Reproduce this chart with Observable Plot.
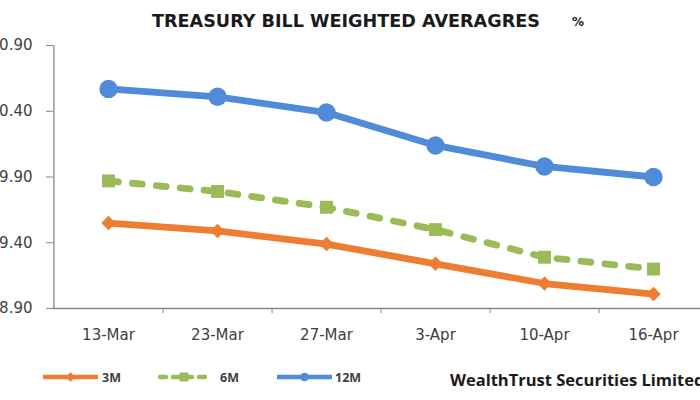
<!DOCTYPE html>
<html><head><meta charset="utf-8">
<script src="https://cdn.jsdelivr.net/npm/d3@7"></script>
<script src="https://cdn.jsdelivr.net/npm/@observablehq/plot@0.6"></script>
<style>
html,body{margin:0;padding:0;background:#fff;}
body{width:700px;height:400px;overflow:hidden;font-family:"Open Sans",sans-serif;}
#title{position:relative;height:38px;}
#title .t{position:absolute;left:152px;top:11px;font-family:"DejaVu Sans",sans-serif;font-weight:bold;font-size:17.6px;line-height:20px;color:#1a1a1a;white-space:nowrap;}
#title .pct{position:absolute;left:572px;top:14px;font-family:"DejaVu Sans",sans-serif;font-weight:bold;font-size:12px;line-height:16px;color:#1a1a1a;}
#chart{height:312px;width:700px;overflow:hidden;}
#chart svg{display:block;max-width:none !important;}
#legend{height:50px;}
</style></head><body>
<div id="title"><span class="t">TREASURY BILL WEIGHTED AVERAGRES</span><span class="pct">%</span></div>
<div id="chart"></div>
<div id="legend"></div>
<script>
const dates = ["13-Mar","23-Mar","27-Mar","3-Apr","10-Apr","16-Apr"];
const seriesNames = ["3M","6M","12M"];
const rates3M = [9.55,9.49,9.39,9.24,9.09,9.01];
const rates6M = [9.87,9.79,9.67,9.50,9.29,9.20];
const rates12M = [10.57,10.51,10.39,10.14,9.98,9.90];
const yTicks = [8.90,9.40,9.90,10.40,10.90];
const colors = ["#ED7D31","#9BBB59","#4F8BD9"];
const symbols = ["diamond2","square","circle"];
const radii = [6.5,7.3,9.2];
const dashes = [null,"10,14",null];
const source = "WealthTrust Securities Limited";

const valuesBySeries = [rates3M, rates6M, rates12M];
const data = dates.flatMap((d,i)=>seriesNames.map((s,k)=>({date:d, series:s, value:valuesBySeries[k][i]})));

const W = 710, H = 312, mL = 53, mR = 2, mT = 7, mB = 42;
const step = (W - mL - mR) / dates.length;
const axisColor = "#868686";
const axisFont = "'DejaVu Sans', sans-serif";

const marks = [
  Plot.ruleX([dates[0]], {dx: -step/2, stroke: axisColor, strokeWidth: 1.3}),
  Plot.ruleY([yTicks[0]], {stroke: axisColor, strokeWidth: 1.3}),
  Plot.axisY({ticks: yTicks, tickFormat: d3.format(".2f"), tickSize: 7, tickPadding: 14, stroke: axisColor, fill: "#404040", fontSize: 15}),
  Plot.axisX({tickSize: 0, tickPadding: 21, fill: "#404040", fontSize: 15}),
  Plot.axisX({tickSize: 5, tickFormat: () => "", dx: step/2, stroke: axisColor}),
];
seriesNames.forEach((s,k)=>{
  const sub = data.filter(d=>d.series===s);
  marks.push(Plot.line(sub, {x:"date", y:"value", stroke: colors[k], strokeWidth: 6.8, strokeDasharray: dashes[k], strokeLinecap: dashes[k] ? "round" : "butt", strokeLinejoin:"round"}));
  marks.push(Plot.dot(sub, {x:"date", y:"value", fill: colors[k], symbol: symbols[k], r: radii[k], stroke: "none"}));
});

const chart = Plot.plot({
  width: W, height: H, marginTop: mT, marginBottom: mB, marginLeft: mL, marginRight: mR,
  style: {fontFamily: axisFont, fontSize: "15px", background: "transparent", overflow: "hidden", maxWidth: "none"},
  x: {type: "point", domain: dates, padding: 0.5, label: null, axis: null},
  y: {domain: [yTicks[0], yTicks[yTicks.length-1]], label: null, axis: null},
  marks
});
document.getElementById("chart").appendChild(chart);

// legend
const lg = d3.select("#legend").append("svg").attr("width",700).attr("height",50).style("display","block");
const items = [{x0:43,x1:98,tx:102},{x0:160,x1:208,tx:220},{x0:277,x1:332,tx:335}];
const ly = 27;
seriesNames.forEach((s,k)=>{
  const it = items[k];
  lg.append("line").attr("x1",it.x0).attr("x2",it.x1).attr("y1",ly).attr("y2",ly)
    .attr("stroke",colors[k]).attr("stroke-width",4.5)
    .attr("stroke-dasharray", dashes[k] ? "6,7" : null).attr("stroke-linecap", dashes[k] ? "round":"butt");
  const sym = d3.symbol().type({diamond2:d3.symbolDiamond2, square:d3.symbolSquare, circle:d3.symbolCircle}[symbols[k]]).size(k===1?80:60);
  lg.append("path").attr("d", sym()).attr("transform",`translate(${(it.x0+it.x1)/2},${ly})`).attr("fill",colors[k]);
  lg.append("text").attr("x",it.tx).attr("y",ly+4.5).text(s)
    .attr("font-family","'Liberation Sans Narrow', 'Open Sans', sans-serif").attr("font-weight","bold").attr("font-size",12.5).attr("fill","#404040");
});
lg.append("text").attr("x",450).attr("y",36).text(source)
  .attr("font-family","'Open Sans', sans-serif").attr("font-weight","bold").attr("font-size",16.5).attr("fill","#1a1a1a");
</script>
</body></html>
